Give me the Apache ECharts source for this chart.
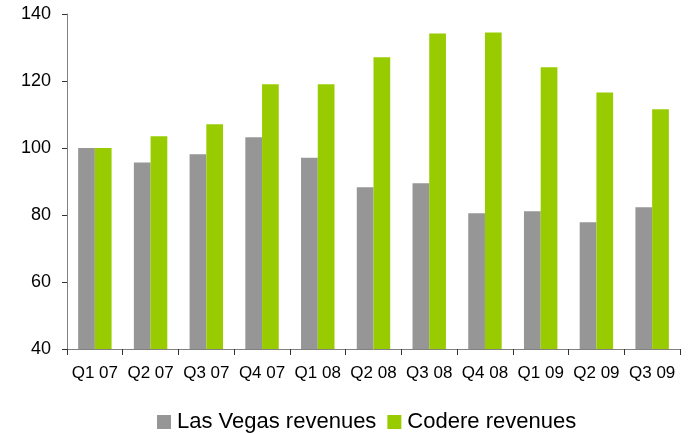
<!DOCTYPE html>
<html>
<head>
<meta charset="utf-8">
<script src="https://cdn.jsdelivr.net/npm/echarts@6/dist/echarts.min.js"></script>
<style>
html, body { margin: 0; padding: 0; background: #fff; }
#chart { width: 688px; height: 433px; }
</style>
</head>
<body>
<div id="chart"></div>
<script>
// quarters on the x axis
const quarters = ['Q1 07', 'Q2 07', 'Q3 07', 'Q4 07', 'Q1 08', 'Q2 08', 'Q3 08', 'Q4 08', 'Q1 09', 'Q2 09', 'Q3 09'];
// indexed revenues, Q1 07 = 100
const lasVegas = [100, 95.7, 98.1, 103.2, 97.1, 88.3, 89.5, 80.5, 81.1, 77.8, 82.3];
const codere = [100, 103.5, 107.1, 119.0, 119.0, 127.1, 134.2, 134.5, 124.1, 116.6, 111.6];

const chart = echarts.init(document.getElementById('chart'));
chart.setOption({
  animation: false,
  textStyle: { fontFamily: 'Liberation Sans, Arial, sans-serif' },
  grid: { left: 67, right: 8, top: 14, bottom: 84 },
  legend: {
    top: 411,
    left: 157,
    padding: 0,
    itemWidth: 14,
    itemHeight: 14,
    itemGap: 11,
    icon: 'rect',
    textStyle: { fontSize: 22, color: '#000', padding: [0, 0, 0, 1] },
    data: ['Las Vegas revenues', 'Codere revenues']
  },
  xAxis: {
    type: 'category',
    data: quarters,
    axisLine: { lineStyle: { color: '#808080', width: 1 } },
    axisTick: { show: true, length: 6, alignWithLabel: false, lineStyle: { color: '#333' } },
    axisLabel: { fontSize: 17, color: '#000', margin: 16, interval: 0 }
  },
  yAxis: {
    type: 'value',
    min: 40,
    max: 140,
    interval: 20,
    splitLine: { show: false },
    axisLine: { show: true, lineStyle: { color: '#808080', width: 1 } },
    axisTick: { show: true, length: 5, lineStyle: { color: '#333' } },
    axisLabel: { fontSize: 18, color: '#000', margin: 16 }
  },
  series: [
    {
      name: 'Las Vegas revenues',
      type: 'bar',
      data: lasVegas,
      barGap: '0%',
      barCategoryGap: '40%',
      itemStyle: { color: '#969696' }
    },
    {
      name: 'Codere revenues',
      type: 'bar',
      data: codere,
      itemStyle: { color: '#99cc00' }
    }
  ]
});
</script>
</body>
</html>
